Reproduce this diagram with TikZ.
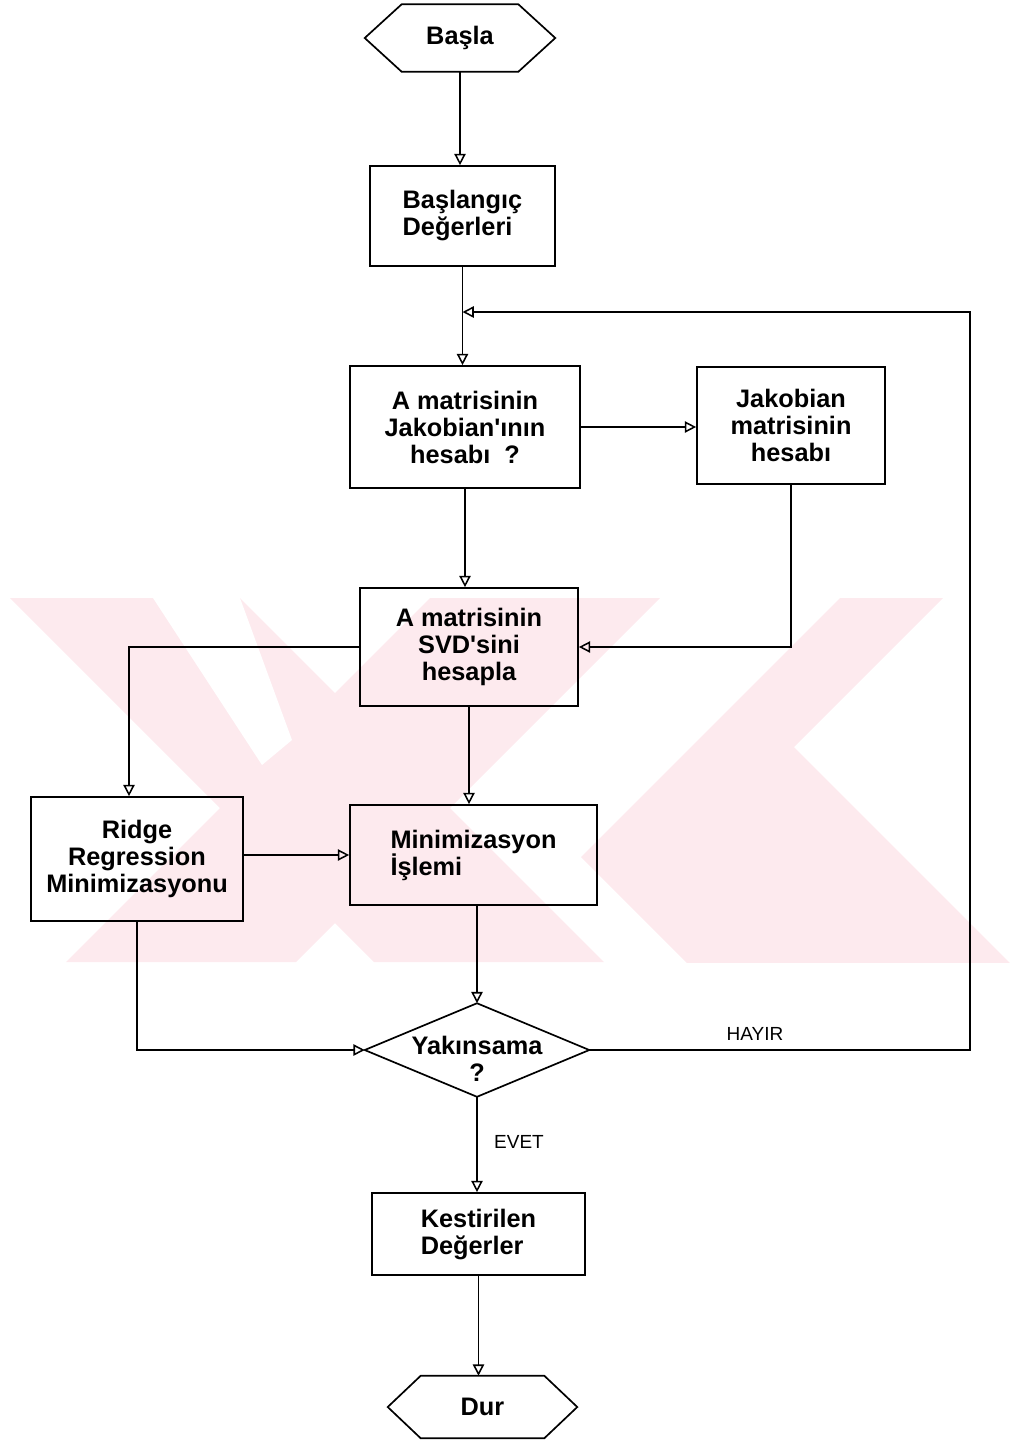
\documentclass[tikz,border=0pt]{standalone}
\usepackage{fontspec}
\setmainfont{Liberation Sans}[Ligatures=TeXOff]
\usetikzlibrary{arrows.meta}
\definecolor{wmpink}{RGB}{253,234,238}
\newdimen\px \px=0.025cm
\newcommand{\boxfont}{\bfseries\fontsize{18}{19.2}\selectfont}
% hexagon drawn round a named node, #2 = inset of the points
\newcommand{\hexaround}[2]{\draw[ln] (#1.west) -- ([xshift=#2\px]#1.north west) -- ([xshift=-#2\px]#1.north east) -- (#1.east) -- ([xshift=-#2\px]#1.south east) -- ([xshift=#2\px]#1.south west) -- cycle;}
\tikzset{
  stepbox/.style={align=center, inner sep=0pt, font=\boxfont},
  procbox/.style={stepbox, draw, line width=1.2pt},
  ln/.style={line width=1.2pt},
  arr/.style={line width=1.1pt, -{Triangle[open,length=8pt,width=8pt]}},
  lbl/.style={font=\fontsize{13.5}{15}\selectfont},
}
\begin{document}
\begin{tikzpicture}[x=1\px,y=-1\px]
  \useasboundingbox (0,0) rectangle (1015,1443);
  % watermark
  \begin{scope}
    \clip (0,598) rectangle (1013,962);
    \fill[wmpink] (10,598) -- (240,598) -- (604,962) -- (374,962) -- cycle;
    \fill[wmpink] (430,598) -- (660,598) -- (296,962) -- (66,962) -- cycle;
    \fill[wmpink] (840,598) -- (943,598) -- (794,747) -- (1010,963) -- (687,963) -- (581,857) -- cycle;
    \fill[white] (153,598) -- (240,598) -- (292,740) -- (262,765) -- cycle;
  \end{scope}
  % nodes
  \node[stepbox, minimum width=190\px, minimum height=67\px] (start) at (460,38) {Başla};
  \hexaround{start}{37}
  \node[procbox, align=left, minimum width=185\px, minimum height=100\px] (init) at (462.5,216) {Başlangıç\\Değerleri};
  \node[procbox, minimum width=230\px, minimum height=122\px] (jakA) at (465,427) {A matrisinin\\Jakobian'ının\\hesabı~ ?};
  \node[procbox, minimum width=188\px, minimum height=117\px] (jak) at (791,425.5) {Jakobian\\matrisinin\\hesabı};
  \node[procbox, minimum width=218\px, minimum height=118\px] (svd) at (469,647) {A matrisinin\\SVD'sini\\hesapla};
  \node[procbox, minimum width=212\px, minimum height=124\px] (ridge) at (137,859) {Ridge\\Regression\\Minimizasyonu};
  \node[procbox, align=left, minimum width=247\px, minimum height=100\px] (minim) at (473.5,855) {Minimizasyon\\İşlemi};
  \node[stepbox, minimum width=224\px, minimum height=93\px] (conv) at (477,1050) {\rule{0pt}{25pt}Yakınsama\\?};
  \draw[ln] (conv.north) -- (conv.east) -- (conv.south) -- (conv.west) -- cycle;
  \node[procbox, align=left, minimum width=213\px, minimum height=82\px] (est) at (478.5,1234) {Kestirilen\\Değerler};
  \node[stepbox, minimum width=189\px, minimum height=62\px] (stop) at (482.5,1407) {Dur};
  \hexaround{stop}{33}
  \node[lbl] (no) at (755,1034) {HAYIR};
  \node[lbl] (yes) at (519,1142) {EVET};
  % connectors
  \coordinate (back) at (970,312);
  \draw[arr] (start.south) -- (start.south |- init.north);
  \draw[arr] (init.south) -- (init.south |- jakA.north);
  \draw[arr] (conv.east) -| (back) -- (back -| init.south);
  \draw[arr] (jakA.east) -- (jakA.east -| jak.west);
  \draw[arr] (jakA.south) -- (jakA.south |- svd.north);
  \draw[arr] (jak.south) |- (svd.east);
  \draw[arr] (svd.west) -| ([xshift=-8\px]ridge.north);
  \draw[arr] (svd.south) -- (svd.south |- minim.north);
  \draw[arr] (ridge.east |- minim.west) -- (minim.west);
  \draw[arr] (minim.south -| conv.north) -- (conv.north);
  \draw[arr] (ridge.south) |- (conv.west);
  \draw[arr] (conv.south) -- (conv.south |- est.north);
  \draw[arr] (est.south) -- (est.south |- stop.north);
\end{tikzpicture}
\end{document}
